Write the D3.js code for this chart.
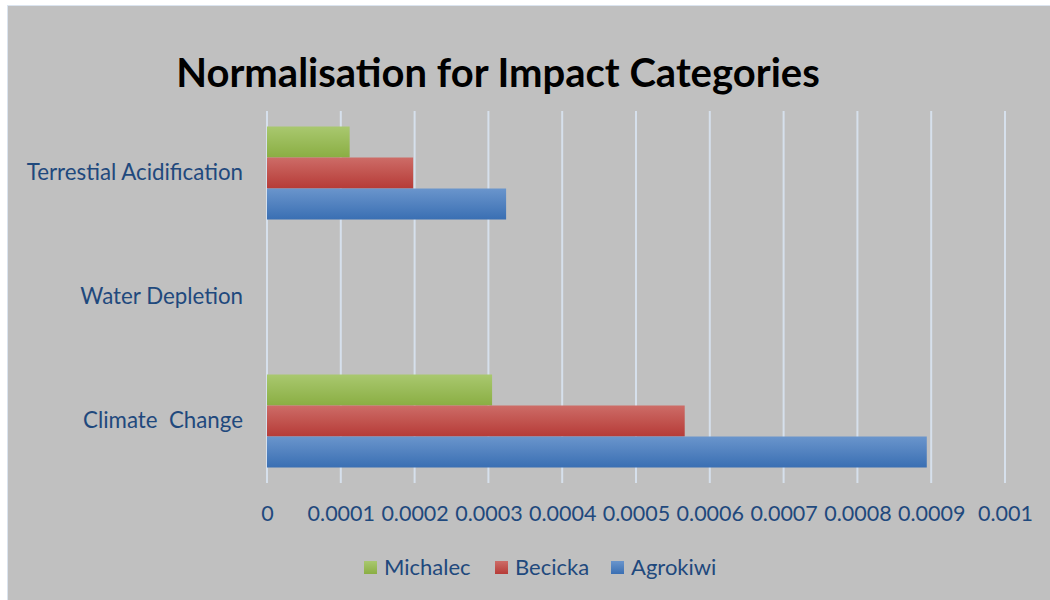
<!DOCTYPE html>
<html><head><meta charset="utf-8">
<script src="https://cdn.jsdelivr.net/npm/d3@7"></script>
<style>body{margin:0;background:#fff}svg{display:block}</style>
</head><body>
<svg id="c" width="1050" height="600"></svg>
<script>
const categories = ["Terrestial Acidification", "Water Depletion", "Climate  Change"];
const seriesNames = ["Michalec", "Becicka", "Agrokiwi"];
const michalec = [0.000112, 0, 0.000305];
const becicka = [0.000198, 0, 0.000566];
const agrokiwi = [0.000324, 0, 0.000894];
const tickValues = [0, 0.0001, 0.0002, 0.0003, 0.0004, 0.0005, 0.0006, 0.0007, 0.0008, 0.0009, 0.001];
const tickLabels = ["0", "0.0001", "0.0002", "0.0003", "0.0004", "0.0005", "0.0006", "0.0007", "0.0008", "0.0009", "0.001"];
const title = "Normalisation for Impact Categories";

const seriesValues = [michalec, becicka, agrokiwi];
const colors = [["#a9c86f", "#8aae43"], ["#cd6c67", "#b63b37"], ["#6a95cc", "#3a6fb3"]];
const font = "Lato, 'Open Sans', sans-serif";
const textColor = "#1f497d";

const svg = d3.select("#c");
svg.append("rect").attr("x", 7.5).attr("y", 5.5).attr("width", 1050).attr("height", 600)
  .attr("fill", "#c0c0c0").attr("stroke", "#dbe4ef").attr("stroke-width", 1);

const defs = svg.append("defs");
colors.forEach((c, i) => {
  const g = defs.append("linearGradient").attr("id", "g" + i).attr("x1", 0).attr("y1", 0).attr("x2", 0).attr("y2", 1);
  g.append("stop").attr("offset", "0%").attr("stop-color", c[0]);
  g.append("stop").attr("offset", "100%").attr("stop-color", c[1]);
});

const x = d3.scaleLinear().domain([0, 0.001]).range([267, 1005]);
const y = d3.scaleBand().domain(categories).range([111, 483]).paddingInner(0).paddingOuter(0);
const inner = d3.scaleBand().domain(seriesNames).range([0, y.bandwidth()]).paddingInner(0).paddingOuter(0.5);

svg.append("text").attr("x", 498).attr("y", 87).attr("text-anchor", "middle")
  .attr("font-family", font).attr("font-weight", "bold").attr("font-size", 40).attr("fill", "#000").text(title);

// gridlines
svg.append("g").selectAll("line").data(tickValues).join("line")
  .attr("x1", d => x(d)).attr("x2", d => x(d)).attr("y1", 111).attr("y2", 483)
  .attr("stroke", "#d6e0ec").attr("stroke-width", 2);

// bars
categories.forEach((cat, ci) => {
  seriesNames.forEach((s, si) => {
    const v = seriesValues[si][ci];
    if (v > 0) {
      svg.append("rect").attr("x", x(0)).attr("y", y(cat) + inner(s))
        .attr("width", x(v) - x(0)).attr("height", inner.bandwidth())
        .attr("fill", `url(#g${si})`);
    }
  });
});

// x axis labels
const xAxis = d3.axisBottom(x).tickValues(tickValues).tickFormat((d, i) => tickLabels[i]).tickSize(0).tickPadding(0);
const gx = svg.append("g").attr("transform", "translate(0,506)").call(xAxis);
gx.select(".domain").remove();
gx.selectAll("text").attr("font-family", font).attr("font-size", 21.5).attr("fill", textColor).attr("dy", "0.71em");

// y axis labels
const yAxis = d3.axisLeft(y).tickSize(0).tickPadding(0);
const gy = svg.append("g").attr("transform", "translate(243,0)").call(yAxis);
gy.select(".domain").remove();
gy.selectAll("text").attr("font-family", font).attr("font-size", 22.3).attr("fill", textColor).style("white-space", "pre");

// legend
const legendX = [364, 495, 611];
seriesNames.forEach((s, i) => {
  const g = svg.append("g").attr("transform", `translate(${legendX[i]},561)`);
  g.append("rect").attr("width", 13).attr("height", 13).attr("fill", `url(#g${i})`);
  g.append("text").attr("x", 20).attr("y", 6.5).attr("dy", "0.35em").attr("font-family", font)
    .attr("font-size", 22).attr("fill", textColor).text(s);
});
</script>
</body></html>
